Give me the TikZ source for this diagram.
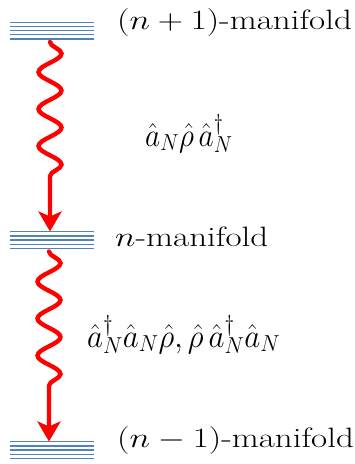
\documentclass[tikz,border=0pt]{standalone}
\usepackage{fix-cm}
\usepackage{fontspec}
\usepackage{graphicx}
\usetikzlibrary{calc,decorations.pathmorphing,arrows.meta}
\definecolor{levblue}{RGB}{79,129,189}
\definecolor{wavered}{RGB}{255,0,0}
\newcommand\lblwide[2][1.25]{\scalebox{#1}[1]{#2}}
\tikzset{
  level/.style={minimum width=84pt, minimum height=17pt, inner sep=0pt, outer sep=0pt,
    path picture={
      \foreach \k in {-2,...,2}{
        \draw[levblue, line width=1.4pt]
          ($(path picture bounding box.west)+(0,\k*4.2)$) --
          ($(path picture bounding box.east)+(0,\k*4.2)$);
      }
    }},
  lbl/.style={inner sep=0pt, font=\fontsize{28}{32}\selectfont},
  formula/.style={inner sep=0pt, font=\fontsize{33}{38}\selectfont},
  wave/.style={wavered, line width=4.4pt, line cap=round,
    -{Stealth[length=20pt,width=23pt,inset=5pt]},
    decorate, decoration={snake, amplitude=11.5pt, segment length=37pt, post length=40pt}}
}
\begin{document}
\begin{tikzpicture}[x=1pt,y=1pt]
\useasboundingbox (0,0) rectangle (355,-464);
\node[level] (lev1) at (52,-30.5) {};
\node[level] (lev2) at (52,-240) {};
\node[level] (lev3) at (52,-450) {};
\node[lbl, anchor=base west] (t1) at (117,-29) {\lblwide{$(n+1)$-manifold}};
\node[lbl, anchor=base west] (t2) at (115,-246.7) {\lblwide{$n$-manifold}};
\node[lbl, anchor=base west] (t3) at (117,-447.5) {\lblwide{$(n-1)$-manifold}};
\node[formula, anchor=base west] (f1) at (145,-146) {\lblwide[0.89]{$\hat a_N\hat\rho\,\hat a_N^\dagger$}};
\node[formula, anchor=base west] (f2) at (87,-347) {\lblwide[0.94]{$\hat a_N^\dagger\hat a_N\hat\rho,\hat\rho\,\hat a_N^\dagger\hat a_N$}};
\draw[wave] ($(lev1.south)+(-2,-3)$) -- ($(lev2.north)+(-2,0)$);
\draw[wave] ($(lev2.south)+(-3,-3)$) -- ($(lev3.north)+(-3,0)$);
\end{tikzpicture}
\end{document}
